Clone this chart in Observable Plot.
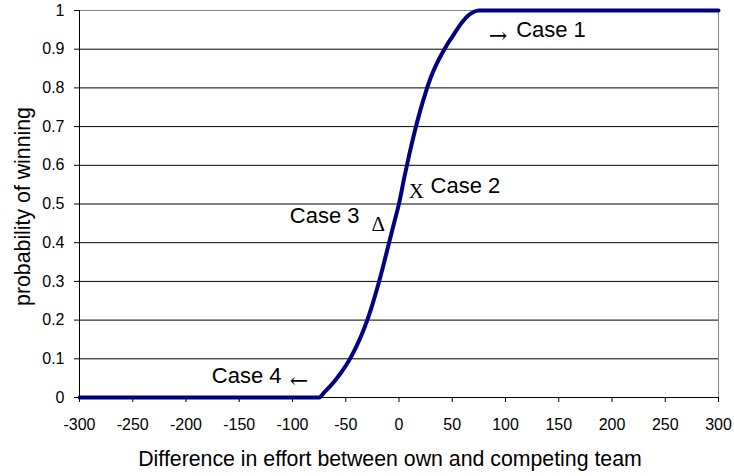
<!DOCTYPE html>
<html><head><meta charset="utf-8">
<script src="https://cdn.jsdelivr.net/npm/d3@7"></script>
<script src="https://cdn.jsdelivr.net/npm/@observablehq/plot@0.6"></script>
<style>body{margin:0;background:#fff}</style>
</head><body><div id="chart"></div>
<script>
const effortDiff = [-300, -75, -70, -65, -60, -55, -50, -45, -40, -35, -30, -25, -20, -15, -10, -5, 0, 5, 10, 15, 20, 25, 30, 35, 40, 45, 50, 55, 60, 65, 70, 75, 300];
const winProb = [0, 0, 0.014, 0.028, 0.044, 0.062, 0.082, 0.105, 0.132, 0.163, 0.198, 0.240, 0.287, 0.338, 0.393, 0.447, 0.501, 0.569, 0.632, 0.690, 0.742, 0.788, 0.828, 0.860, 0.887, 0.911, 0.932, 0.953, 0.972, 0.987, 0.996, 1, 1];
const xTicks = [-300, -250, -200, -150, -100, -50, 0, 50, 100, 150, 200, 250, 300];
const yTicks = [0, 0.1, 0.2, 0.3, 0.4, 0.5, 0.6, 0.7, 0.8, 0.9, 1];
const xTitle = "Difference in effort between own and competing team";
const yTitle = "probability of winning";
const caseLabels = ["Case 1", "Case 2", "Case 3", "Case 4"];
const caseX = [110, 29.6, -37.1, -110.3];
const caseY = [0.972, 0.569, 0.490, 0.077];
const caseAnchor = ["start", "start", "end", "end"];
const arrowSymbols = ["→", "←"];
const arrowX = [84.3, -102.5];
const arrowY = [0.935, 0.042];
const pointSymbols = ["X", "Δ"];
const pointX = [9.2, -25.8];
const pointY = [0.554, 0.468];

const curve = effortDiff.map((x, i) => ({x, y: winProb[i]}));
const cases = caseLabels.map((t, i) => ({t, x: caseX[i], y: caseY[i], a: caseAnchor[i]}));
const arrows = arrowSymbols.map((t, i) => ({t, x: arrowX[i], y: arrowY[i]}));
const points = pointSymbols.map((t, i) => ({t, x: pointX[i], y: pointY[i]}));

const chart = Plot.plot({
  width: 734,
  height: 476,
  marginLeft: 79,
  marginRight: 16,
  marginTop: 10,
  marginBottom: 79,
  x: {domain: [-300, 300]},
  y: {domain: [0, 1]},
  style: {fontFamily: "'Liberation Sans', Arial, sans-serif", fontSize: "16px", color: "#000", background: "#fff"},
  marks: [
    Plot.ruleY(yTicks.filter(d => d > 0 && d < 1), {stroke: "#000", strokeWidth: 1}),
    Plot.ruleY([1], {stroke: "#888"}),
    Plot.ruleX([300], {stroke: "#888"}),
    Plot.axisX({ticks: xTicks, tickFormat: d => String(d), tickSize: 5, tickPadding: 16, label: null, fontSize: 16}),
    Plot.axisY({ticks: yTicks, tickFormat: d => String(d), tickSize: 5, tickPadding: 10, label: null, fontSize: 16}),
    Plot.ruleX([-300], {stroke: "#000"}),
    Plot.ruleY([0], {stroke: "#000"}),
    Plot.line(curve, {x: "x", y: "y", stroke: "#000080", strokeWidth: 4, curve: "monotone-x"}),
    Plot.text(cases.filter(d => d.a === "start"), {x: "x", y: "y", text: "t", textAnchor: "start", lineAnchor: "top", fontSize: 22, fill: "#000"}),
    Plot.text(cases.filter(d => d.a === "end"), {x: "x", y: "y", text: "t", textAnchor: "end", lineAnchor: "top", fontSize: 22, fill: "#000"}),
    Plot.text(arrows, {x: "x", y: "y", text: "t", textAnchor: "start", lineAnchor: "middle", fontSize: 22, fontFamily: "'DejaVu Serif', serif", fill: "#000"}),
    Plot.text(points, {x: "x", y: "y", text: "t", textAnchor: "start", lineAnchor: "top", fontSize: 21, fontFamily: "'Liberation Serif', 'Times New Roman', serif", fill: "#000"}),
    Plot.text([xTitle], {text: d => d, frameAnchor: "bottom", textAnchor: "middle", lineAnchor: "top", dx: -9, dy: 53, fontSize: 21.3, fill: "#000"}),
    Plot.text([yTitle], {text: d => d, frameAnchor: "left", textAnchor: "middle", rotate: -90, lineAnchor: "top", dx: -65, dy: 2.5, fontSize: 21.3, fill: "#000"})
  ]
});
document.getElementById("chart").appendChild(chart);
</script>
</body></html>
